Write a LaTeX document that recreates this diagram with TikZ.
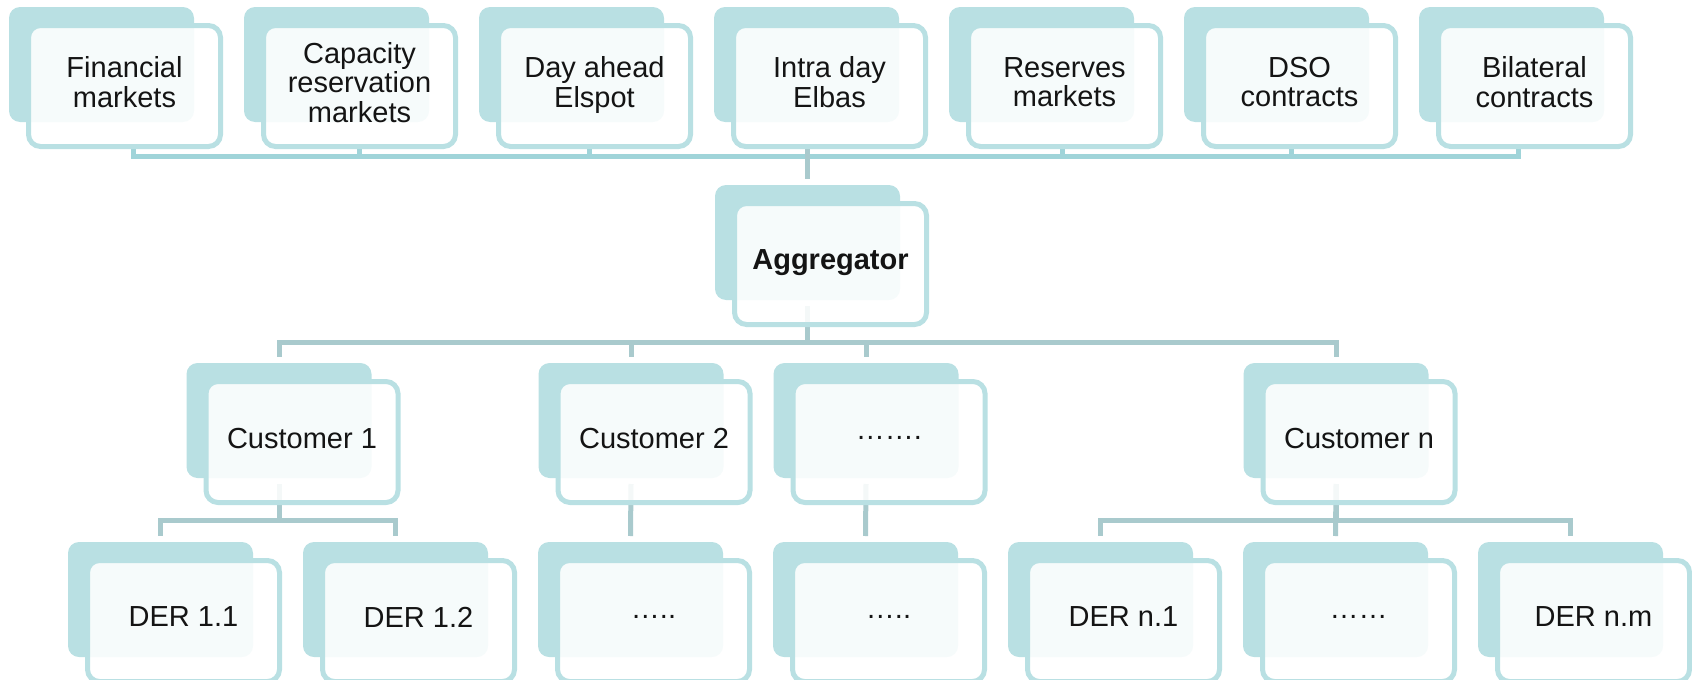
\documentclass[tikz,border=0pt]{standalone}
\usepackage{fontspec}
\setmainfont{Liberation Sans}
\usetikzlibrary{backgrounds}
\definecolor{boxteal}{RGB}{185,224,227}
\definecolor{topteal}{RGB}{160,212,217}
\definecolor{subteal}{RGB}{169,202,205}
\definecolor{inktext}{RGB}{20,20,20}
\tikzset{
  backbox/.style={shape=rectangle, rounded corners=11pt, fill=boxteal,
    minimum width=185pt, minimum height=115pt, inner sep=0pt, outer sep=6pt},
  frontbox/.style={shape=rectangle, rounded corners=12pt, draw=boxteal, line width=5pt,
    fill=white, fill opacity=.88, text opacity=1, text=inktext,
    minimum width=192pt, minimum height=121pt, inner sep=0pt, text depth=8pt,
    xshift=23pt, yshift=-21.5pt, align=center, font=\fontsize{29}{29.5}\selectfont},
  mainbar/.style={draw=topteal, line width=5pt},
  subbar/.style={draw=subteal, line width=5pt}
}
\begin{document}
\begin{tikzpicture}[x=1pt, y=-1pt]
  \useasboundingbox (0,0) rectangle (1692,680);
  \foreach \n/\x/\t in {fin/101.5/{Financial\\markets}, cap/336.5/{Capacity\\reservation\\markets},
      day/571.5/{Day ahead\\Elspot}, intra/806.5/{Intra day\\Elbas}, res/1041.5/{Reserves\\markets},
      dso/1276.5/{DSO\\contracts}, bil/1511.5/{Bilateral\\contracts}}{
    \node[backbox] (\n-b) at (\x,64.5) {};
    \node[frontbox] (\n) at (\n-b) {\t};
  }
  \node[backbox] (agg-b) at (807.5,242.5) {};
  \node[frontbox] (agg) at (agg-b) {\textbf{Aggregator}};
  \foreach \n/\x/\t in {c1/279/Customer 1, c2/631/Customer 2, c3/866/{…….}, cn/1336/Customer n}{
    \node[backbox] (\n-b) at (\x,420.5) {};
    \node[frontbox] (\n) at (\n-b) {\t};
  }
  \foreach \n/\x/\t in {d11/160.5/DER 1.1, d12/395.5/DER 1.2, d2/630.5/{…..}, d3/865.5/{…..},
      dn1/1100.5/DER n.1, dn2/1335.5/{……}, dnm/1570.5/DER n.m}{
    \node[backbox] (\n-b) at (\x,599.5) {};
    \node[frontbox] (\n) at (\n-b) {\t};
  }

  \coordinate (bar1) at (0,156);
  \coordinate (bar2) at (0,342.5);
  \coordinate (bar3) at (0,520.5);
  \begin{scope}[on background layer]
    \foreach \n/\dx in {fin/8.5,cap/0,day/-5.5,res/-2.5,dso/-8.5,bil/-16.5}
      \draw[mainbar] ([xshift=\dx pt]\n.south) |- (agg-b.north |- bar1);
    \draw[subbar] (intra.south -| agg-b.north) -- (agg-b.north);
    \foreach \c in {c1,c2,c3,cn}
      \draw[subbar] (agg-b.south) -- (agg-b.south |- bar2) -| (\c-b.north);
    \foreach \p/\c in {c1/d11,c1/d12,cn/dn1,cn/dnm}
      \draw[subbar] (\p-b.south) -- (\p-b.south |- bar3) -| (\c-b.north);
    \foreach \p/\c in {c2/d2,c3/d3,cn/dn2}
      \draw[subbar] (\p-b.south) -- (\c-b.north);
  \end{scope}
\end{tikzpicture}
\end{document}
